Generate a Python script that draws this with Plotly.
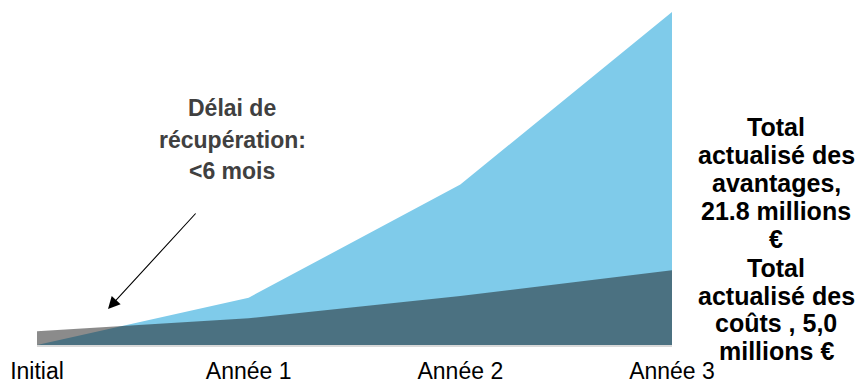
import plotly.graph_objects as go

categories = ["Initial", "Année 1", "Année 2", "Année 3"]
x_pos = [0, 1, 2, 3]
benefits = [0.0, 3.1, 10.5, 21.8]   # millions €
costs = [0.9, 1.75, 3.2, 4.9]       # millions €

delai_lines = ["Délai de", "récupération:", "&lt;6 mois"]
benef_lines = ["Total", "actualisé des", "avantages,", "21.8 millions", "€"]
cout_lines = ["Total", "actualisé des", "coûts , 5,0", "millions €"]

FONT = "Arial, Liberation Sans, sans-serif"

fig = go.Figure()
fig.add_trace(go.Scatter(x=x_pos, y=benefits, mode="lines", fill="tozeroy",
                         line=dict(width=0, color="#7FCBEA"),
                         fillcolor="#7FCBEA", hoverinfo="skip", showlegend=False))
fig.add_trace(go.Scatter(x=x_pos, y=costs, mode="lines", fill="tozeroy",
                         line=dict(width=0, color="rgba(24,24,24,0.5)"),
                         fillcolor="rgba(24,24,24,0.5)", hoverinfo="skip", showlegend=False))

L, R, T, B = 37, 187, 12, 40
W, H = 859, 385
pw, ph = W - L - R, H - T - B

def px(xp):
    return (xp - L) / pw

def py(yp):
    return (H - B - yp) / ph

fig.add_annotation(xref="paper", yref="paper", x=px(108), y=py(309),
                   ax=89, ay=-97, text="", showarrow=True,
                   arrowhead=2, arrowsize=2.2, arrowwidth=1.1, arrowcolor="#000000")

def add_lines(lines, xc, y0, dy, size, color):
    for i, t in enumerate(lines):
        fig.add_annotation(xref="paper", yref="paper", x=px(xc), y=py(y0 + i * dy),
                           text="<b>" + t + "</b>", showarrow=False,
                           xanchor="center", yanchor="middle", align="center",
                           font=dict(family=FONT, size=size, color=color))

add_lines(delai_lines, 232, 108, 31.5, 23, "#404040")
add_lines(benef_lines, 776, 127, 28, 25, "#000000")
add_lines(cout_lines, 776, 268, 27.6, 25, "#000000")

fig.update_layout(
    width=W, height=H,
    margin=dict(l=L, r=R, t=T, b=B),
    paper_bgcolor="white", plot_bgcolor="white",
    xaxis=dict(range=[0, 3], tickvals=x_pos, ticktext=categories,
               showgrid=False, zeroline=False, showline=True,
               linecolor="#D9D9D9", linewidth=2, ticks="", automargin=False,
               ticklabelstandoff=4,
               tickfont=dict(family=FONT, size=23, color="#000000")),
    yaxis=dict(range=[0, 21.8], visible=False, showgrid=False, zeroline=False,
               automargin=False),
)

fig.write_html("out.html")
